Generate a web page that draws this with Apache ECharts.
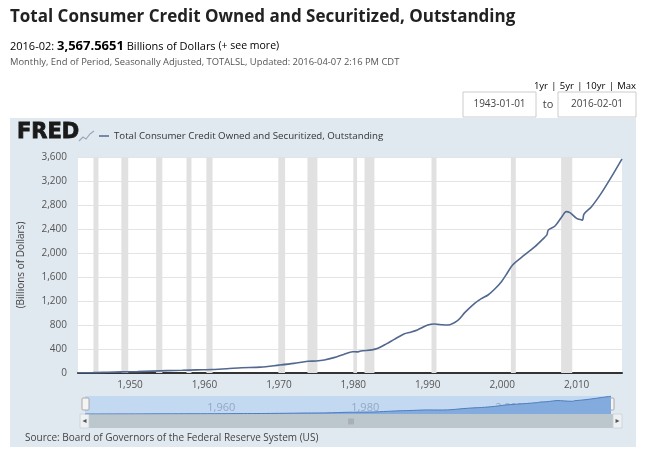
<!DOCTYPE html>
<html>
<head>
<meta charset="utf-8">
<script src="https://cdn.jsdelivr.net/npm/echarts@6/dist/echarts.min.js"></script>
<style>
  html, body { margin: 0; padding: 0; background: #fff; }
  #fred { width: 655px; height: 456px; }
</style>
</head>
<body>
<div id="fred"></div>
<script>
// Total consumer credit, billions of dollars (decimal year, value)
var years = [1943.0, 1945.0, 1947.0, 1949.0, 1951.0, 1953.0, 1955.0, 1957.0, 1959.0, 1961.0,
  1963.0, 1965.0, 1967.5, 1970.0, 1972.0, 1973.9, 1975.0, 1976.1, 1977.4, 1978.7,
  1979.9, 1980.5, 1981.0, 1982.5, 1983.3, 1984.5, 1985.5, 1986.8, 1987.7, 1988.6,
  1990.0, 1990.9, 1992.0, 1992.7, 1994.0, 1995.0, 1996.3, 1997.2, 1998.1, 1999.0,
  1999.9, 2000.6, 2001.4, 2003.0, 2004.4, 2005.7, 2006.0, 2006.2, 2007.1, 2008.0,
  2008.6, 2009.1, 2010.0, 2010.7, 2010.8, 2011.0, 2012.0, 2013.3, 2014.7, 2016.1];
var credit = [5, 6, 12, 18, 23, 32, 40, 45, 52, 58,
  71, 88, 98, 131, 160, 195, 200, 217, 256, 310,
  354, 352, 367, 385, 411, 490, 561, 650, 680, 717,
  800, 817, 803, 800, 872, 1010, 1161, 1240, 1300, 1400,
  1522, 1650, 1800, 1967, 2105, 2261, 2300, 2383, 2450, 2600,
  2690, 2672, 2578, 2550, 2545, 2650, 2772, 2994, 3272, 3568];

// NBER recessions (shaded bands)
var recessionStart = [1945.08, 1948.83, 1953.5, 1957.58, 1960.25, 1969.92, 1973.83, 1980.0, 1981.5, 1990.5, 2001.17, 2007.92];
var recessionEnd   = [1945.75, 1949.75, 1954.33, 1958.25, 1961.08, 1970.83, 1975.17, 1980.5, 1982.83, 1991.17, 2001.83, 2009.42];

var xTicks = [1950, 1960, 1970, 1980, 1990, 2000, 2010];
var navTicks = [1960, 1980, 2000];

var seriesName = 'Total Consumer Credit Owned and Securitized, Outstanding';
var points = years.map(function (y, i) { return [y, credit[i]]; });
var bands = recessionStart.map(function (s, i) { return [{ xAxis: s }, { xAxis: recessionEnd[i] }]; });

var chart = echarts.init(document.getElementById('fred'));

var option = {
  animation: false,
  textStyle: { fontFamily: 'Open Sans' },
  legend: {
    data: [seriesName],
    left: 94, top: 126,
    icon: 'rect', itemWidth: 10, itemHeight: 1.5, itemGap: 4,
    textStyle: { fontSize: 9.7, color: '#333' }
  },
  grid: [
    { left: 78, right: 33, top: 157, bottom: 83, show: true, backgroundColor: '#fff', borderWidth: 0 },
    { left: 85, right: 44, top: 396, height: 18, show: true, backgroundColor: '#c3d8f1', borderWidth: 0 }
  ],
  xAxis: [
    {
      type: 'value', gridIndex: 0, min: 1943, max: 2016.1,
      axisLine: { lineStyle: { color: '#333', width: 2 } },
      axisTick: { show: false },
      splitLine: { show: false },
      axisLabel: { customValues: xTicks, color: '#555', fontSize: 10, margin: 7 }
    },
    {
      type: 'value', gridIndex: 1, min: 1943, max: 2016.1,
      axisLine: { show: false }, axisTick: { show: false }, splitLine: { show: false },
      axisLabel: { customValues: navTicks, inside: true, align: 'left', margin: 1, color: '#93a9c4', fontSize: 11 }
    }
  ],
  yAxis: [
    {
      type: 'value', gridIndex: 0, min: 0, max: 3600, interval: 400,
      name: '(Billions of Dollars)', nameLocation: 'middle', nameGap: 52, nameRotate: 90,
      nameTextStyle: { fontSize: 10, color: '#444' },
      axisLine: { show: false }, axisTick: { show: false },
      splitLine: { lineStyle: { color: '#e4e4e4' } },
      axisLabel: {
        color: '#555', fontSize: 10, margin: 11,
        formatter: function (v) { return v.toLocaleString('en-US'); }
      }
    },
    { type: 'value', gridIndex: 1, min: 0, max: 3600, show: false }
  ],
  series: [
    {
      name: seriesName, type: 'line', xAxisIndex: 0, yAxisIndex: 0,
      data: points, showSymbol: false, smooth: 0.3,
      color: '#52688f', lineStyle: { width: 1.6 },
      markArea: { silent: true, itemStyle: { color: '#e1e1e1' }, data: bands }
    },
    {
      name: 'navigator', type: 'line', xAxisIndex: 1, yAxisIndex: 1,
      data: points, showSymbol: false, smooth: 0.3,
      lineStyle: { color: '#4f7cbd', width: 1 },
      areaStyle: { color: '#84abdd', opacity: 1 }
    }
  ],
  graphic: { elements: [
    // panel background
    { type: 'rect', z: -10, shape: { x: 10, y: 118, width: 626, height: 329 }, style: { fill: '#e1e9f0' } },
    // header
    { type: 'text', x: 10, y: 9, style: { text: seriesName, font: 'bold 17px "Open Sans"', fill: '#222' } },
    { type: 'text', x: 10, y: 40, style: {
      text: '{a|2016-02: }{b|3,567.5651}{a| Billions of Dollars }{c|(+ see more)}',
      rich: {
        a: { fontSize: 11, fontFamily: 'Open Sans', color: '#555' },
        b: { fontSize: 13, fontWeight: 'bold', fontFamily: 'Open Sans', color: '#333' },
        c: { fontSize: 10.5, fontFamily: 'Open Sans', color: '#2a6ebb' }
      } } },
    { type: 'text', x: 10, y: 58, style: { text: 'Monthly, End of Period, Seasonally Adjusted, TOTALSL, Updated: 2016-04-07 2:16 PM CDT', font: '9.4px "Open Sans"', fill: '#555' } },
    { type: 'text', x: 636, y: 80, style: {
      text: '{l|1yr} {s||} {l|5yr} {s||} {l|10yr} {s||} {l|Max}', align: 'right',
      rich: {
        l: { fontSize: 9.5, fontFamily: 'Open Sans', color: '#2a6ebb' },
        s: { fontSize: 9.5, fontFamily: 'Open Sans', color: '#999' }
      } } },
    { type: 'rect', shape: { x: 463, y: 92, width: 73, height: 25 }, style: { fill: '#fff', stroke: '#ccc', lineWidth: 1 } },
    { type: 'text', x: 499.5, y: 104.5, style: { text: '1943-01-01', font: '10px "Open Sans"', fill: '#444', align: 'center', verticalAlign: 'middle' } },
    { type: 'text', x: 548, y: 104.5, style: { text: 'to', font: '11px "Open Sans"', fill: '#444', align: 'center', verticalAlign: 'middle' } },
    { type: 'rect', shape: { x: 558, y: 92, width: 78, height: 25 }, style: { fill: '#fff', stroke: '#ccc', lineWidth: 1 } },
    { type: 'text', x: 597, y: 104.5, style: { text: '2016-02-01', font: '10px "Open Sans"', fill: '#444', align: 'center', verticalAlign: 'middle' } },
    // FRED logo
    { type: 'text', x: 17, y: 122, style: { text: 'FRED', font: 'bold 21px "DejaVu Sans"', fill: '#1a1a1a', stroke: '#1a1a1a', lineWidth: 0.8 } },
    { type: 'polyline', shape: { points: [[79, 141], [83, 137], [86, 139], [90, 134], [94, 131]] }, style: { stroke: '#9aa8b8', lineWidth: 1.2, fill: null } },
    // navigator handles and scrollbar
    { type: 'rect', shape: { x: 82, y: 398, width: 7, height: 12, r: 1 }, style: { fill: '#f4f4f4', stroke: '#999', lineWidth: 0.8 } },
    { type: 'rect', shape: { x: 607, y: 398, width: 7, height: 12, r: 1 }, style: { fill: '#f4f4f4', stroke: '#999', lineWidth: 0.8 } },
    { type: 'rect', shape: { x: 80, y: 414, width: 542, height: 14 }, style: { fill: '#bcc6cd' } },
    { type: 'rect', shape: { x: 80, y: 414, width: 9, height: 14 }, style: { fill: '#eef1f3', stroke: '#c8d0d6', lineWidth: 0.8 } },
    { type: 'rect', shape: { x: 613, y: 414, width: 9, height: 14 }, style: { fill: '#eef1f3', stroke: '#c8d0d6', lineWidth: 0.8 } },
    { type: 'text', x: 84.5, y: 421, style: { text: '◂', font: '8px "DejaVu Sans"', fill: '#555', align: 'center', verticalAlign: 'middle' } },
    { type: 'text', x: 617.5, y: 421, style: { text: '▸', font: '8px "DejaVu Sans"', fill: '#555', align: 'center', verticalAlign: 'middle' } },
    { type: 'text', x: 351, y: 421, style: { text: '|||', font: '6px "DejaVu Sans"', fill: '#777', align: 'center', verticalAlign: 'middle' } },
    // source
    { type: 'text', x: 25, y: 433, style: { text: 'Source: Board of Governors of the Federal Reserve System (US)', font: '10px "Open Sans"', fill: '#444' } }
  ] }
};

chart.setOption(option);
</script>
</body>
</html>
